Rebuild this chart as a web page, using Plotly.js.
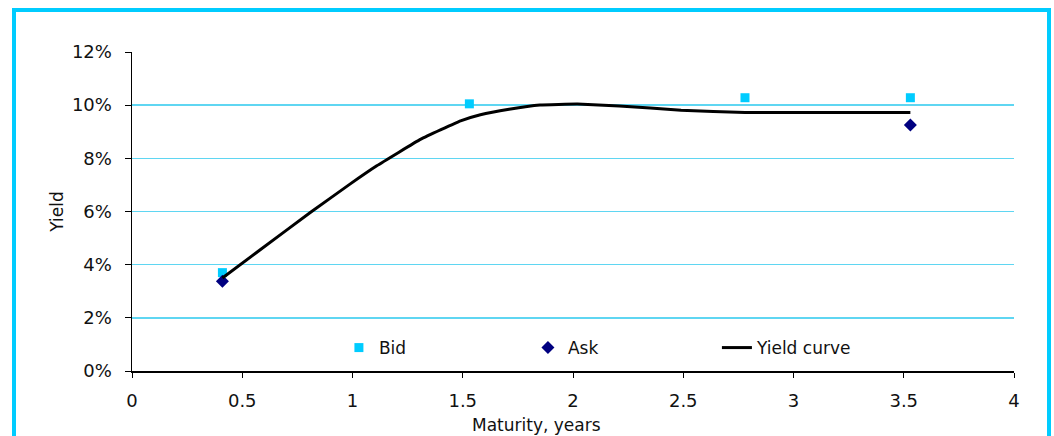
<!DOCTYPE html>
<html>
<head>
<meta charset="utf-8">
<script src="https://cdn.plot.ly/plotly-3.0.1.min.js"></script>
<style>
html,body{margin:0;padding:0;background:#fff;overflow:hidden;}
#wrap{position:relative;width:1054px;height:436px;}
#chart{position:absolute;left:0;top:0;width:1054px;height:436px;}
#frame{position:absolute;left:12px;top:8px;width:1031px;height:500px;border:4px solid #00ccff;pointer-events:none;}
</style>
</head>
<body>
<div id="wrap">
<div id="chart"></div>
<div id="frame"></div>
</div>
<script>
// Data (yields in %)
const bidMaturity = [0.41, 1.53, 2.78, 3.53];
const bidYield = [3.70, 10.05, 10.28, 10.28];
const askMaturity = [0.41, 3.53];
const askYield = [3.38, 9.25];
const curveMaturity = [0.41, 0.58, 0.81, 0.99, 1.11, 1.31, 1.49, 1.58, 1.71, 1.85, 2.02, 2.21, 2.49, 2.78, 3.53];
const curveYield = [3.50, 4.55, 5.97, 7.04, 7.72, 8.72, 9.41, 9.64, 9.85, 10.01, 10.04, 9.97, 9.81, 9.72, 9.72];
const yTicks = [0, 2, 4, 6, 8, 10, 12];
const yTickText = ['0%', '2%', '4%', '6%', '8%', '10%', '12%'];
const xTicks = [0, 0.5, 1, 1.5, 2, 2.5, 3, 3.5, 4];
const xTickText = ['0', '0.5', '1', '1.5', '2', '2.5', '3', '3.5', '4'];

const font = {family: 'DejaVu Sans, Verdana, sans-serif', size: 17, color: '#111'};
const tickFont = {family: 'DejaVu Sans, Verdana, sans-serif', size: 18, color: '#111'};

const traces = [
  {x: bidMaturity, y: bidYield, name: 'Bid', type: 'scatter', mode: 'markers',
   marker: {symbol: 'square', size: 9, color: '#00ccff'}},
  {x: askMaturity, y: askYield, name: 'Ask', type: 'scatter', mode: 'markers',
   marker: {symbol: 'diamond', size: 10, color: '#000080'}},
  {x: curveMaturity, y: curveYield, name: 'Yield curve', type: 'scatter', mode: 'lines',
   line: {color: '#000', width: 3, shape: 'spline', smoothing: 0.3}}
];

const layout = {
  width: 1054, height: 436,
  margin: {l: 132, r: 40, t: 52, b: 65},
  paper_bgcolor: '#fff', plot_bgcolor: '#fff',
  font: font,
  showlegend: true,
  legend: {orientation: 'h', x: 0.2346, xanchor: 'left', y: 0.072, yanchor: 'middle',
           font: font, bgcolor: 'rgba(0,0,0,0)', entrywidth: 144, entrywidthmode: 'pixels'},
  xaxis: {range: [0, 4], tickmode: 'array', tickvals: xTicks, ticktext: xTickText,
          showline: true, linecolor: '#000', linewidth: 1.5, ticks: 'outside', ticklen: 5,
          tickcolor: '#000', showgrid: false, zeroline: false, tickfont: tickFont, ticklabelstandoff: 8},
  yaxis: {range: [0, 12], tickmode: 'array', tickvals: yTicks, ticktext: yTickText,
          showline: true, linecolor: '#000', linewidth: 1.5, ticks: 'outside', ticklen: 6,
          tickcolor: '#000', showgrid: true, gridcolor: '#5fd6f2', gridwidth: 1.5,
          zeroline: false, tickfont: tickFont, ticklabelstandoff: 9,
          title: {text: 'Yield', font: font, standoff: 4}},
  annotations: [
    {text: 'Maturity, years', xref: 'paper', yref: 'paper', x: 0.459, y: -0.169,
     xanchor: 'center', yanchor: 'middle', showarrow: false, font: font}
  ]
};

Plotly.newPlot('chart', traces, layout, {displayModeBar: false, staticPlot: true});
</script>
</body>
</html>
